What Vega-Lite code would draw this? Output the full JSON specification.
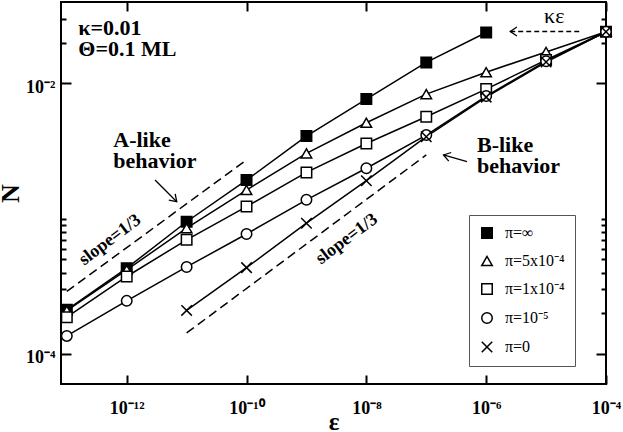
{
  "$schema": "https://vega.github.io/schema/vega-lite/v6.json",
  "autosize": {"type": "none"},
  "padding": {"left": 61, "top": 2, "right": 17, "bottom": 48},
  "width": 545,
  "height": 382,
  "datasets": {
    "series": [
      {"pi": "π=∞", "eps": 1e-13, "n": 2.12e-4},
      {"pi": "π=∞", "eps": 1e-12, "n": 4.31e-4},
      {"pi": "π=∞", "eps": 1e-11, "n": 9.5e-4},
      {"pi": "π=∞", "eps": 1e-10, "n": 1.93e-3},
      {"pi": "π=∞", "eps": 1e-9, "n": 4.08e-3},
      {"pi": "π=∞", "eps": 1e-8, "n": 7.66e-3},
      {"pi": "π=∞", "eps": 1e-7, "n": 1.43e-2},
      {"pi": "π=∞", "eps": 1e-6, "n": 2.38e-2},
      {"pi": "π=5x10⁻⁴", "eps": 1e-13, "n": 2.09e-4},
      {"pi": "π=5x10⁻⁴", "eps": 1e-12, "n": 4.19e-4},
      {"pi": "π=5x10⁻⁴", "eps": 1e-11, "n": 8.51e-4},
      {"pi": "π=5x10⁻⁴", "eps": 1e-10, "n": 1.63e-3},
      {"pi": "π=5x10⁻⁴", "eps": 1e-9, "n": 3.04e-3},
      {"pi": "π=5x10⁻⁴", "eps": 1e-8, "n": 5.12e-3},
      {"pi": "π=5x10⁻⁴", "eps": 1e-7, "n": 8.34e-3},
      {"pi": "π=5x10⁻⁴", "eps": 1e-6, "n": 1.21e-2},
      {"pi": "π=5x10⁻⁴", "eps": 1e-5, "n": 1.71e-2},
      {"pi": "π=5x10⁻⁴", "eps": 1e-4, "n": 2.41e-2},
      {"pi": "π=1x10⁻⁴", "eps": 1e-13, "n": 1.87e-4},
      {"pi": "π=1x10⁻⁴", "eps": 1e-12, "n": 3.74e-4},
      {"pi": "π=1x10⁻⁴", "eps": 1e-11, "n": 6.98e-4},
      {"pi": "π=1x10⁻⁴", "eps": 1e-10, "n": 1.23e-3},
      {"pi": "π=1x10⁻⁴", "eps": 1e-9, "n": 2.2e-3},
      {"pi": "π=1x10⁻⁴", "eps": 1e-8, "n": 3.6e-3},
      {"pi": "π=1x10⁻⁴", "eps": 1e-7, "n": 5.67e-3},
      {"pi": "π=1x10⁻⁴", "eps": 1e-6, "n": 9.08e-3},
      {"pi": "π=1x10⁻⁴", "eps": 1e-5, "n": 1.49e-2},
      {"pi": "π=1x10⁻⁴", "eps": 1e-4, "n": 2.41e-2},
      {"pi": "π=10⁻⁵", "eps": 1e-13, "n": 1.36e-4},
      {"pi": "π=10⁻⁵", "eps": 1e-12, "n": 2.47e-4},
      {"pi": "π=10⁻⁵", "eps": 1e-11, "n": 4.4e-4},
      {"pi": "π=10⁻⁵", "eps": 1e-10, "n": 7.71e-4},
      {"pi": "π=10⁻⁵", "eps": 1e-9, "n": 1.38e-3},
      {"pi": "π=10⁻⁵", "eps": 1e-8, "n": 2.36e-3},
      {"pi": "π=10⁻⁵", "eps": 1e-7, "n": 4.15e-3},
      {"pi": "π=10⁻⁵", "eps": 1e-6, "n": 8.06e-3},
      {"pi": "π=10⁻⁵", "eps": 1e-5, "n": 1.46e-2},
      {"pi": "π=10⁻⁵", "eps": 1e-4, "n": 2.41e-2},
      {"pi": "π=0", "eps": 1e-11, "n": 2.1e-4},
      {"pi": "π=0", "eps": 1e-10, "n": 4.35e-4},
      {"pi": "π=0", "eps": 1e-9, "n": 9.27e-4},
      {"pi": "π=0", "eps": 1e-8, "n": 1.91e-3},
      {"pi": "π=0", "eps": 1e-7, "n": 4.04e-3},
      {"pi": "π=0", "eps": 1e-6, "n": 7.92e-3},
      {"pi": "π=0", "eps": 1e-5, "n": 1.44e-2},
      {"pi": "π=0", "eps": 1e-4, "n": 2.41e-2}
    ],
    "guides": [
      {"line": "A", "eps": 1e-13, "n": 2.9e-4},
      {"line": "A", "eps": 1e-10, "n": 2.72e-3},
      {"line": "B", "eps": 1e-11, "n": 1.43e-4},
      {"line": "B", "eps": 1e-7, "n": 2.96e-3},
      {"line": "K", "eps": 2.52e-6, "n": 0.0242},
      {"line": "K", "eps": 3.97e-5, "n": 0.0242}
    ],
    "arrows": [
      {"arrow": "A", "eps": 2.97e-12, "n": 1.934e-3},
      {"arrow": "A", "eps": 6.84e-12, "n": 1.336e-3},
      {"arrow": "B", "eps": 4.78e-7, "n": 2.64e-3},
      {"arrow": "B", "eps": 1.94e-7, "n": 2.96e-3}
    ],
    "heads": [
      {"arrow": "A", "eps": 6.84e-12, "n": 1.336e-3},
      {"arrow": "B", "eps": 1.94e-7, "n": 2.96e-3},
      {"arrow": "K", "eps": 2.52e-6, "n": 0.0242}
    ],
    "labels": [
      {"text": "κ=0.01", "eps": 1.556e-13, "n": 2.285e-2},
      {"text": "Θ=0.1 ML", "eps": 1.556e-13, "n": 1.596e-2},
      {"text": "A-like", "eps": 5.97e-13, "n": 3.41e-3},
      {"text": "behavior", "eps": 5.97e-13, "n": 2.36e-3},
      {"text": "B-like", "eps": 7.02e-7, "n": 3.13e-3},
      {"text": "behavior", "eps": 7.02e-7, "n": 2.17e-3}
    ],
    "slopes": [
      {"text": "slope=1/3", "eps": 5.26e-13, "n": 6.97e-4},
      {"text": "slope=1/3", "eps": 4.72e-9, "n": 7.08e-4}
    ],
    "kappa": [
      {"text": "κε", "eps": 1.37e-5, "n": 0.0279}
    ]
  },
  "layer": [
    {
      "data": {"name": "guides"},
      "mark": {"type": "line", "color": "black", "strokeWidth": 1.5},
      "encoding": {
        "x": {"field": "eps", "type": "quantitative",
              "scale": {"type": "log", "domain": [8e-14, 1e-4], "nice": false},
              "axis": {"orient": "top", "values": [1e-12, 1e-10, 1e-8, 1e-6, 1e-4],
                       "tickSize": -9, "labels": false, "title": null}},
        "y": {"field": "n", "type": "quantitative",
              "scale": {"type": "log", "domain": [6e-5, 0.04], "nice": false},
              "axis": {"orient": "right",
                       "values": [0.0001, 0.0002, 0.0003, 0.0004, 0.0005, 0.0006, 0.0007, 0.0008, 0.0009, 0.001, 0.01, 0.02, 0.03],
                       "tickSize": {"condition": {"test": "datum.value == 0.01 || datum.value == 0.0001", "value": -10}, "value": -5},
                       "labels": false, "title": null}},
        "detail": {"field": "line"},
        "strokeDash": {"field": "line", "type": "nominal", "legend": null,
                       "scale": {"domain": ["A", "B", "K"], "range": [[9, 5], [9, 5], [5, 3]]}}
      }
    },
    {
      "data": {"name": "arrows"},
      "mark": {"type": "line", "color": "black", "strokeWidth": 1.3},
      "encoding": {
        "x": {"field": "eps", "type": "quantitative", "axis": null},
        "y": {"field": "n", "type": "quantitative", "axis": null},
        "detail": {"field": "arrow"}
      }
    },
    {
      "data": {"name": "heads"},
      "transform": [{"filter": "datum.arrow == 'A'"}],
      "mark": {"type": "point", "filled": false, "color": "black", "strokeWidth": 1.3, "size": 80, "opacity": 1,
               "shape": "M-1.77,-0.35L0,0L-0.35,-1.77"},
      "encoding": {
        "x": {"field": "eps", "type": "quantitative", "axis": null},
        "y": {"field": "n", "type": "quantitative", "axis": null}
      }
    },
    {
      "data": {"name": "heads"},
      "transform": [{"filter": "datum.arrow == 'B'"}],
      "mark": {"type": "point", "filled": false, "color": "black", "strokeWidth": 1.3, "size": 80, "opacity": 1,
               "shape": "M1.72,-0.55L0,0L1.17,1.38"},
      "encoding": {
        "x": {"field": "eps", "type": "quantitative", "axis": null},
        "y": {"field": "n", "type": "quantitative", "axis": null}
      }
    },
    {
      "data": {"name": "heads"},
      "transform": [{"filter": "datum.arrow == 'K'"}],
      "mark": {"type": "point", "filled": false, "color": "black", "strokeWidth": 1.3, "size": 80, "opacity": 1,
               "shape": "M1.5,-1L0,0L1.5,1"},
      "encoding": {
        "x": {"field": "eps", "type": "quantitative", "axis": null},
        "y": {"field": "n", "type": "quantitative", "axis": null}
      }
    },
    {
      "data": {"name": "series"},
      "mark": {"type": "line", "color": "black", "strokeWidth": 1.5},
      "encoding": {
        "x": {"field": "eps", "type": "quantitative",
              "axis": {"orient": "bottom", "values": [1e-12, 1e-10, 1e-8, 1e-6, 1e-4],
                       "tickSize": -9, "labelPadding": 24,
                       "labelExpr": "datum.value == 1e-12 ? '10⁻¹²' : datum.value == 1e-10 ? '10⁻¹⁰' : datum.value == 1e-8 ? '10⁻⁸' : datum.value == 1e-6 ? '10⁻⁶' : '10⁻⁴'",
                       "title": "ε", "titleBaseline": "alphabetic", "titleY": 45, "titleFontSize": 25}},
        "y": {"field": "n", "type": "quantitative",
              "axis": {"orient": "left",
                       "values": [0.0001, 0.0002, 0.0003, 0.0004, 0.0005, 0.0006, 0.0007, 0.0008, 0.0009, 0.001, 0.01, 0.02, 0.03],
                       "tickSize": {"condition": {"test": "datum.value == 0.01 || datum.value == 0.0001", "value": -10}, "value": -5},
                       "labelPadding": 16, "labelOffset": 4,
                       "labelExpr": "datum.value == 0.01 ? '10⁻²' : datum.value == 0.0001 ? '10⁻⁴' : ''",
                       "title": "N", "titleBaseline": "alphabetic", "titleX": -43}},
        "detail": {"field": "pi"}
      }
    },
    {
      "data": {"name": "series"},
      "mark": {"type": "point", "filled": true, "stroke": "black", "strokeWidth": 1.5, "size": 110, "opacity": 1},
      "encoding": {
        "x": {"field": "eps", "type": "quantitative", "axis": null},
        "y": {"field": "n", "type": "quantitative", "axis": null},
        "shape": {"field": "pi", "type": "nominal", "title": null,
                  "scale": {"domain": ["π=∞", "π=5x10⁻⁴", "π=1x10⁻⁴", "π=10⁻⁵", "π=0"],
                            "range": ["square", "triangle-up", "square", "circle", "M-1,-1L1,1M-1,1L1,-1"]}},
        "fill": {"field": "pi", "type": "nominal", "title": null,
                 "scale": {"domain": ["π=∞", "π=5x10⁻⁴", "π=1x10⁻⁴", "π=10⁻⁵", "π=0"],
                           "range": ["black", "white", "white", "white", "white"]}},
        "stroke": {"field": "pi", "type": "nominal", "title": null,
                   "scale": {"domain": ["π=∞", "π=5x10⁻⁴", "π=1x10⁻⁴", "π=10⁻⁵", "π=0"],
                             "range": ["black", "black", "black", "black", "black"]}}
      }
    },
    {
      "data": {"name": "labels"},
      "mark": {"type": "text", "font": "Liberation Serif", "fontSize": 22, "fontWeight": "bold",
               "align": "left", "baseline": "alphabetic", "color": "black"},
      "encoding": {
        "x": {"field": "eps", "type": "quantitative", "axis": null},
        "y": {"field": "n", "type": "quantitative", "axis": null},
        "text": {"field": "text"}
      }
    },
    {
      "data": {"name": "slopes"},
      "mark": {"type": "text", "font": "Liberation Serif", "fontSize": 18, "fontWeight": "bold",
               "align": "center", "baseline": "middle", "angle": 323, "color": "black"},
      "encoding": {
        "x": {"field": "eps", "type": "quantitative", "axis": null},
        "y": {"field": "n", "type": "quantitative", "axis": null},
        "text": {"field": "text"}
      }
    },
    {
      "data": {"name": "kappa"},
      "mark": {"type": "text", "font": "Liberation Serif", "fontSize": 22,
               "align": "center", "baseline": "alphabetic", "color": "black"},
      "encoding": {
        "x": {"field": "eps", "type": "quantitative", "axis": null},
        "y": {"field": "n", "type": "quantitative", "axis": null},
        "text": {"field": "text"}
      }
    }
  ],
  "resolve": {"axis": {"x": "independent", "y": "independent"}},
  "config": {
    "view": {"stroke": "black", "strokeWidth": 2},
    "font": "Liberation Serif",
    "axis": {
      "domain": false, "grid": false, "tickColor": "black", "tickWidth": 2,
      "labelFont": "Liberation Serif", "labelFontSize": 18, "labelFontWeight": "bold", "labelColor": "black",
      "labelFlush": false, "labelOverlap": false,
      "titleFont": "Liberation Serif", "titleFontSize": 26, "titleFontWeight": "bold", "titleColor": "black"
    },
    "legend": {
      "orient": "none", "legendX": 408, "legendY": 213,
      "strokeColor": "#555", "strokeWidth": 1, "fillColor": "white", "padding": 10,
      "symbolSize": 110, "symbolStrokeWidth": 1.5,
      "labelFont": "Liberation Serif", "labelFontSize": 16, "labelColor": "black",
      "labelOffset": 10, "rowPadding": 11
    }
  }
}
